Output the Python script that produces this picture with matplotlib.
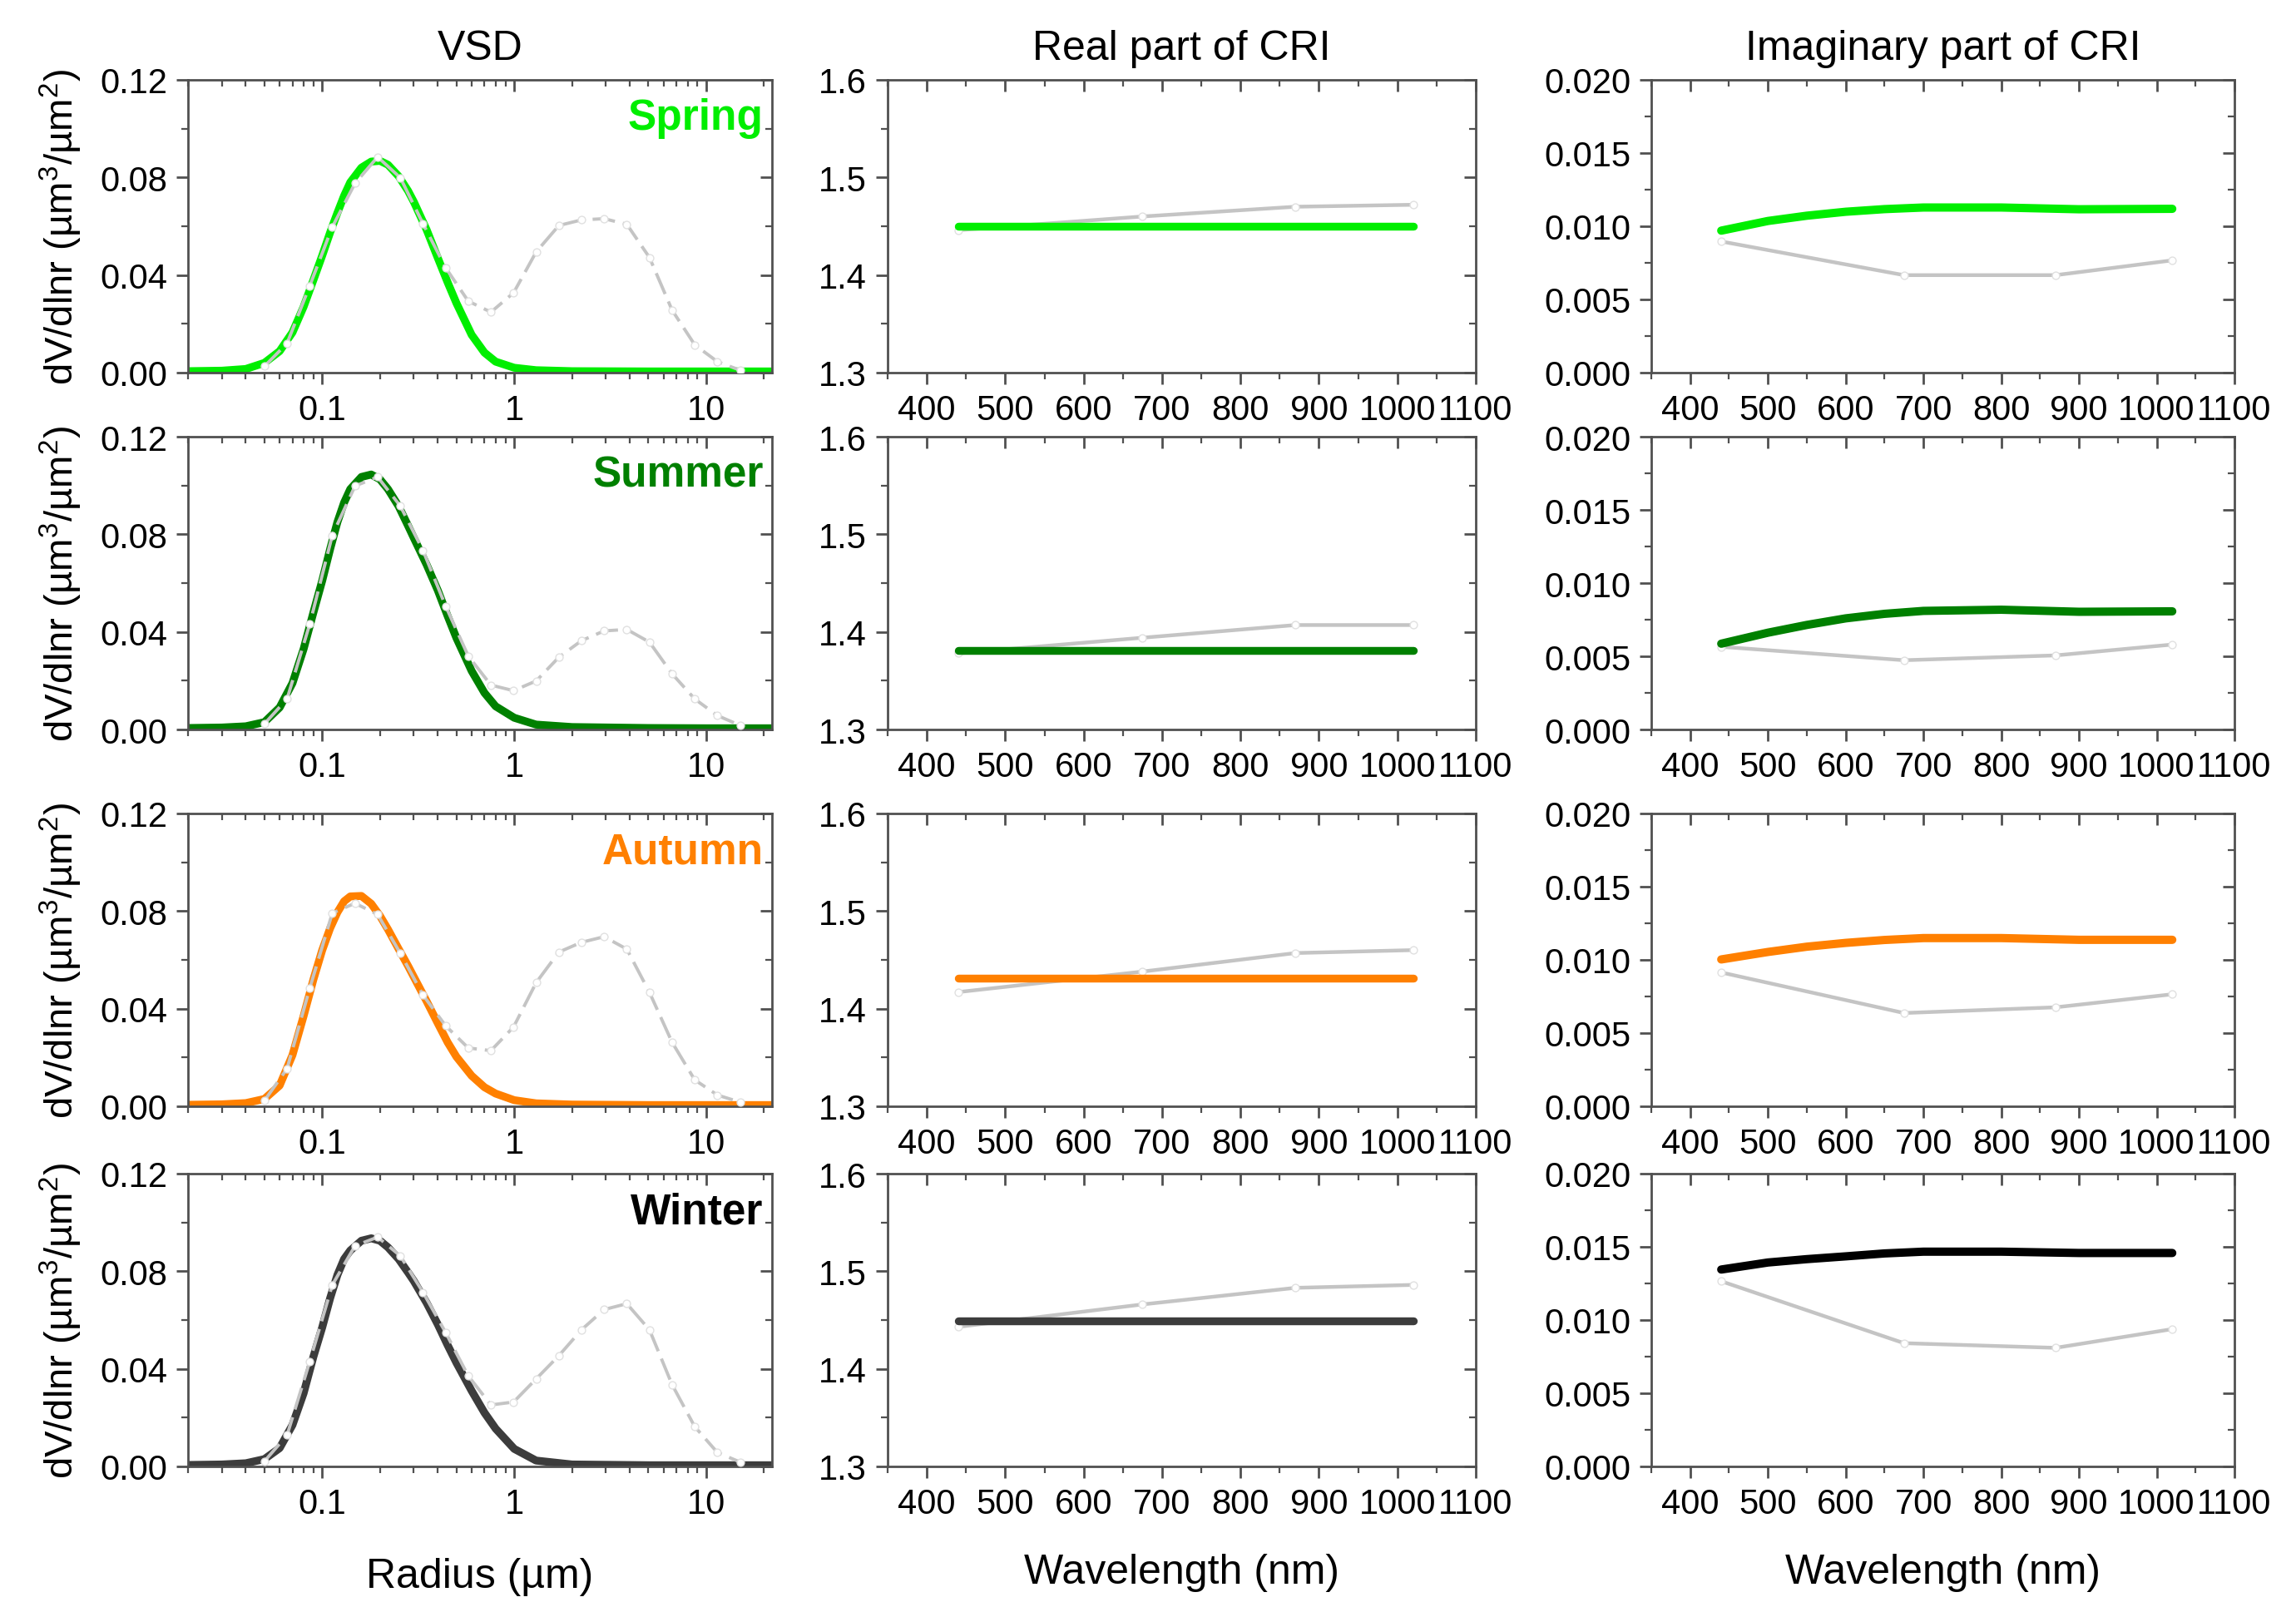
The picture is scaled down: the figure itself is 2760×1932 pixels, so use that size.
import numpy as np
import matplotlib
matplotlib.use('Agg')
import matplotlib.pyplot as plt
from matplotlib.ticker import FixedLocator, MultipleLocator, LogLocator, NullFormatter

plt.rcParams['font.family'] = ['Liberation Sans', 'DejaVu Sans']
plt.rcParams['mathtext.default'] = 'regular'

seasons = ['Spring', 'Summer', 'Autumn', 'Winter']
season_colors = ['#00ee00', '#008000', '#ff8000', '#000000']
line_colors = ['#00ee00', '#008000', '#ff8000', '#3c3c3c']
imag_colors = ['#00ee00', '#008000', '#ff8000', '#000000']

# AERONET radius bins (um) for the grey reference curves
r_bins = [0.05, 0.0656, 0.0861, 0.1129, 0.1482, 0.1944, 0.2551, 0.3347, 0.4392, 0.5762, 0.7561,
          0.9920, 1.3016, 1.7078, 2.2407, 2.9400, 3.8575, 5.0613, 6.6407, 8.7131, 11.4323, 15.0]
vsd_gray_spring = [0.0026, 0.0120, 0.0356, 0.0597, 0.0776, 0.0884, 0.0799, 0.0611, 0.0430, 0.0293, 0.0248,
                   0.0327, 0.0495, 0.0603, 0.0626, 0.0631, 0.0608, 0.0472, 0.0256, 0.0114, 0.0045, 0.0010]
vsd_gray_summer = [0.0023, 0.0125, 0.0432, 0.0796, 0.0998, 0.1035, 0.0916, 0.0734, 0.0506, 0.0301, 0.0182,
                   0.0159, 0.0199, 0.0296, 0.0364, 0.0404, 0.0410, 0.0358, 0.0228, 0.0125, 0.0057, 0.0017]
vsd_gray_autumn = [0.0023, 0.0154, 0.0484, 0.0792, 0.0832, 0.0786, 0.0627, 0.0456, 0.0330, 0.0239, 0.0228,
                   0.0325, 0.0507, 0.0632, 0.0672, 0.0695, 0.0644, 0.0467, 0.0262, 0.0108, 0.0046, 0.0017]
vsd_gray_winter = [0.0021, 0.0128, 0.0430, 0.0744, 0.0904, 0.0940, 0.0863, 0.0714, 0.0549, 0.0371, 0.0252,
                   0.0264, 0.0359, 0.0454, 0.0560, 0.0643, 0.0667, 0.0560, 0.0335, 0.0163, 0.0057, 0.0018]

# fine-mode curves
r_fine = [0.02, 0.03, 0.04, 0.05, 0.06, 0.07, 0.08, 0.09, 0.1, 0.11, 0.12, 0.13, 0.14, 0.16, 0.18, 0.2,
          0.22, 0.25, 0.28, 0.3, 0.35, 0.4, 0.45, 0.5, 0.6, 0.7, 0.8, 1.0, 1.3, 2.0, 5.0, 10.0, 22.0]
vsd_spring = [0.0006, 0.0008, 0.0015, 0.0040, 0.0088, 0.0165, 0.0270, 0.0380, 0.0480, 0.0575, 0.0655, 0.0725,
              0.0780, 0.0840, 0.0865, 0.0868, 0.0852, 0.0805, 0.0745, 0.0700, 0.0585, 0.0470, 0.0370, 0.0285,
              0.0155, 0.0082, 0.0045, 0.0020, 0.0010, 0.0006, 0.0005, 0.0005, 0.0005]
vsd_summer = [0.0006, 0.0008, 0.0013, 0.0030, 0.0090, 0.0190, 0.0330, 0.0480, 0.0610, 0.0740, 0.0850, 0.0930,
              0.0985, 0.1035, 0.1045, 0.1025, 0.0985, 0.0915, 0.0835, 0.0785, 0.0675, 0.0570, 0.0465, 0.0375,
              0.0240, 0.0150, 0.0095, 0.0048, 0.0020, 0.0010, 0.0006, 0.0005, 0.0005]
vsd_autumn = [0.0006, 0.0008, 0.0013, 0.0030, 0.0085, 0.0210, 0.0370, 0.0520, 0.0640, 0.0730, 0.0795, 0.0840,
              0.0860, 0.0862, 0.0830, 0.0780, 0.0725, 0.0645, 0.0575, 0.0530, 0.0430, 0.0340, 0.0262, 0.0203,
              0.0125, 0.0078, 0.0052, 0.0025, 0.0012, 0.0007, 0.0005, 0.0005, 0.0005]
vsd_winter = [0.0006, 0.0008, 0.0013, 0.0030, 0.0075, 0.0170, 0.0300, 0.0450, 0.0570, 0.0690, 0.0785, 0.0850,
              0.0885, 0.0925, 0.0935, 0.0925, 0.0898, 0.0850, 0.0795, 0.0760, 0.0670, 0.0582, 0.0497, 0.0425,
              0.0310, 0.0220, 0.0155, 0.0072, 0.0024, 0.0008, 0.0005, 0.0005, 0.0005]

# complex refractive index
wl_gray = [440, 675, 870, 1020]
real_gray_spring = [1.446, 1.460, 1.470, 1.472]
real_gray_summer = [1.378, 1.394, 1.407, 1.407]
real_gray_autumn = [1.417, 1.438, 1.457, 1.460]
real_gray_winter = [1.443, 1.466, 1.483, 1.486]

wl_real = [440, 1020]
real_spring = [1.450, 1.450]
real_summer = [1.381, 1.381]
real_autumn = [1.431, 1.431]
real_winter = [1.449, 1.449]

imag_gray_spring = [0.00896, 0.00666, 0.00666, 0.00767]
imag_gray_summer = [0.00565, 0.00473, 0.00506, 0.00580]
imag_gray_autumn = [0.00914, 0.00637, 0.00676, 0.00765]
imag_gray_winter = [0.01265, 0.00842, 0.00810, 0.00938]

wl_imag = [440, 500, 550, 600, 650, 700, 800, 900, 1020]
imag_spring = [0.00970, 0.01036, 0.01072, 0.01099, 0.01117, 0.01128, 0.01128, 0.01116, 0.01119]
imag_summer = [0.00586, 0.00661, 0.00714, 0.00759, 0.00790, 0.00810, 0.00818, 0.00804, 0.00807]
imag_autumn = [0.01003, 0.01054, 0.01090, 0.01116, 0.01136, 0.01149, 0.01149, 0.01137, 0.01137]
imag_winter = [0.01345, 0.01393, 0.01416, 0.01435, 0.01455, 0.01467, 0.01467, 0.01458, 0.01458]

vsd_gray = [vsd_gray_spring, vsd_gray_summer, vsd_gray_autumn, vsd_gray_winter]
vsd_fine = [vsd_spring, vsd_summer, vsd_autumn, vsd_winter]
real_gray = [real_gray_spring, real_gray_summer, real_gray_autumn, real_gray_winter]
real_vals = [real_spring, real_summer, real_autumn, real_winter]
imag_gray = [imag_gray_spring, imag_gray_summer, imag_gray_autumn, imag_gray_winter]
imag_vals = [imag_spring, imag_summer, imag_autumn, imag_winter]

W, H = 2760, 1933
fig = plt.figure(figsize=(W / 200, H / 200), dpi=200)

col_left = [226, 1067, 1985]
col_width = [702, 707, 701]
row_top = [97, 526, 979, 1412]
row_h = 352

gray = '#c4c4c4'
spine_c = '#505050'


def style_axes(ax):
    for s in ax.spines.values():
        s.set_color(spine_c)
        s.set_linewidth(1.0)
    ax.tick_params(axis='both', which='both', colors=spine_c, labelcolor='black', labelsize=15)
    ax.tick_params(which='major', length=5, width=1.0)
    ax.tick_params(which='minor', length=3, width=0.8)
    ax.tick_params(axis='x', which='both', bottom=True, top=True, direction='out', pad=4)
    ax.tick_params(axis='y', which='both', left=True, right=True, direction='out', pad=4)
    # ticks on top and right point inwards
    for t in ax.xaxis.get_major_ticks() + ax.xaxis.get_minor_ticks():
        t.tick2line.set_marker(3)
    for t in ax.yaxis.get_major_ticks() + ax.yaxis.get_minor_ticks():
        t.tick2line.set_marker(0)


for i in range(4):
    bottom = 1 - (row_top[i] + row_h) / H
    axes = [fig.add_axes([col_left[j] / W, bottom, col_width[j] / W, row_h / H]) for j in range(3)]
    ax1, ax2, ax3 = axes

    # VSD
    ax1.plot(r_fine, vsd_fine[i], color=line_colors[i], lw=3.4, solid_capstyle='round',
             solid_joinstyle='round', zorder=2)
    ax1.plot(r_bins, vsd_gray[i], color=gray, lw=1.4, ls=(0, (7, 2.5)), marker='o', ms=3.2,
             mfc='white', mec='#e0e0e0', mew=0.5, zorder=3)
    ax1.set_xscale('log')
    ax1.set_xlim(0.02, 22)
    ax1.set_ylim(0, 0.12)
    ax1.xaxis.set_major_locator(FixedLocator([0.1, 1, 10]))
    ax1.set_xticklabels(['0.1', '1', '10'])
    ax1.xaxis.set_minor_locator(LogLocator(base=10, subs=np.arange(2, 10)))
    ax1.xaxis.set_minor_formatter(NullFormatter())
    ax1.yaxis.set_major_locator(MultipleLocator(0.04))
    ax1.yaxis.set_minor_locator(MultipleLocator(0.02))
    ax1.yaxis.set_major_formatter(lambda v, p: f'{v:.2f}')
    ax1.set_ylabel('dV/dlnr (µm$^{3}$/µm$^{2}$)', fontsize=17, labelpad=7)
    ax1.text(0.985, 0.87, seasons[i], transform=ax1.transAxes, ha='right', va='center',
             fontsize=18.5, fontweight='bold', color=season_colors[i])

    # real part
    ax2.plot(wl_gray, real_gray[i], color=gray, lw=1.6, marker='o', ms=3.2, mfc='white',
             mec='#e0e0e0', mew=0.5, zorder=2)
    ax2.plot(wl_real, real_vals[i], color=line_colors[i], lw=3.4, solid_capstyle='round', zorder=3)
    ax2.set_xlim(350, 1100)
    ax2.set_ylim(1.3, 1.6)
    ax2.yaxis.set_major_locator(MultipleLocator(0.1))
    ax2.yaxis.set_minor_locator(MultipleLocator(0.05))
    ax2.yaxis.set_major_formatter(lambda v, p: f'{v:.1f}')

    # imaginary part
    ax3.plot(wl_gray, imag_gray[i], color=gray, lw=1.6, marker='o', ms=3.2, mfc='white',
             mec='#e0e0e0', mew=0.5, zorder=2)
    ax3.plot(wl_imag, imag_vals[i], color=imag_colors[i], lw=3.6, solid_capstyle='round',
             solid_joinstyle='round', zorder=3)
    ax3.set_xlim(350, 1100)
    ax3.set_ylim(0, 0.02)
    ax3.yaxis.set_major_locator(MultipleLocator(0.005))
    ax3.yaxis.set_minor_locator(MultipleLocator(0.0025))
    ax3.yaxis.set_major_formatter(lambda v, p: f'{v:.3f}')

    for ax in (ax2, ax3):
        ax.xaxis.set_major_locator(MultipleLocator(100))
        ax.xaxis.set_minor_locator(MultipleLocator(50))
        ax.xaxis.set_major_formatter(lambda v, p: f'{v:.0f}')

    for ax in axes:
        style_axes(ax)

    if i == 0:
        ax1.set_title('VSD', fontsize=18, pad=9)
        ax2.set_title('Real part of CRI', fontsize=18, pad=9)
        ax3.set_title('Imaginary part of CRI', fontsize=18, pad=9)
    if i == 3:
        ax1.set_xlabel('Radius (µm)', fontsize=18, labelpad=16)
        ax2.set_xlabel('Wavelength (nm)', fontsize=18, labelpad=14)
        ax3.set_xlabel('Wavelength (nm)', fontsize=18, labelpad=14)

fig.savefig('out.png', dpi=200, facecolor='white')
